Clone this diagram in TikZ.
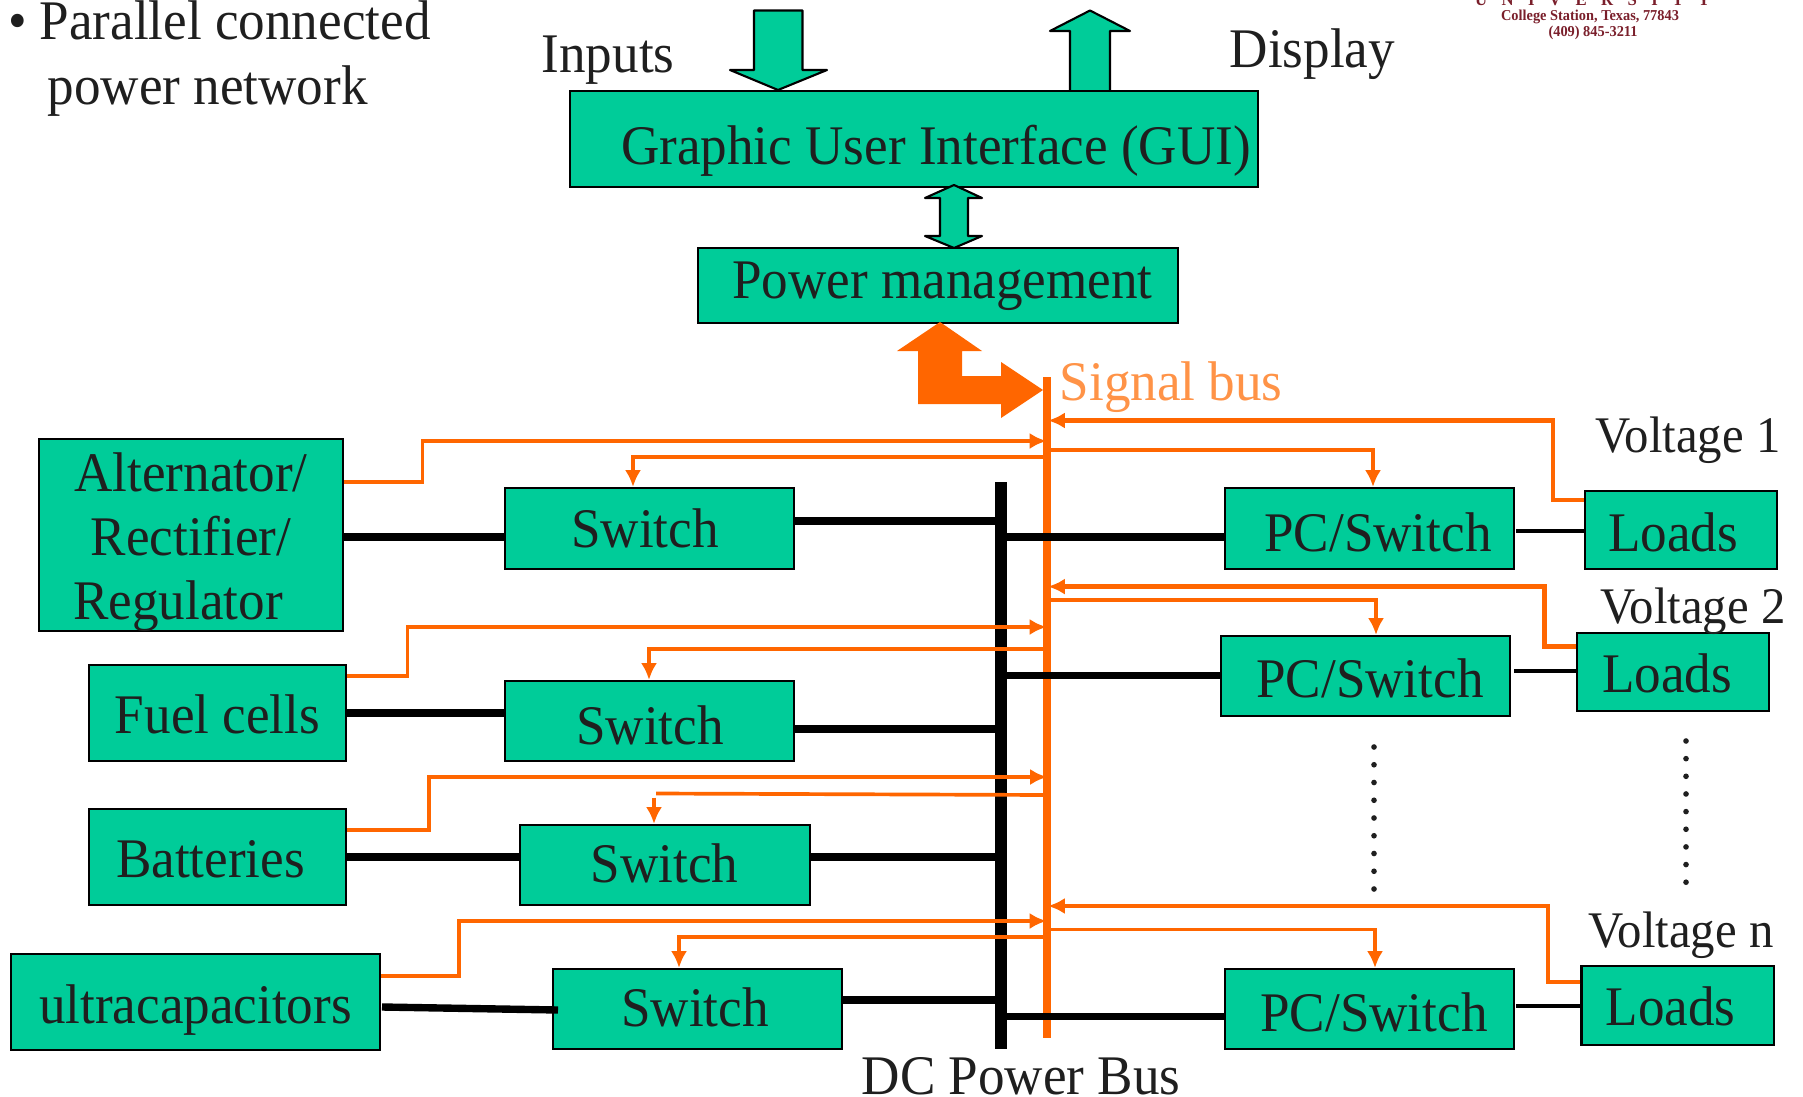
\documentclass[tikz,border=0pt]{standalone}
\usepackage{fontspec}
\setmainfont[FakeStretch=.95]{Liberation Serif}
\usetikzlibrary{arrows.meta}

\definecolor{boxgreen}{HTML}{00CC99}
\definecolor{busorange}{HTML}{FF6600}
\definecolor{signalorange}{HTML}{FF9347}
\definecolor{logored}{HTML}{7A1F2B}

\newlength{\pxu}
\setlength{\pxu}{.01cm}
% moves the text of a box, in pixels
\newcommand{\off}[3]{\raisebox{-#2\pxu}{\makebox[0pt]{\hspace*{#1\pxu}\hspace*{#1\pxu}#3}}}

\tikzset{
  box/.style={draw=black,line width=.6pt,fill=boxgreen,inner sep=0pt,text=black!88,
    font=\fontsize{15.9pt}{18.2pt}\selectfont,text height=11.13pt,text depth=3.18pt},
  swbox/.style={box,minimum width=2.89cm,minimum height=.8cm},
  loadbox/.style={box,minimum width=1.92cm,minimum height=.785cm},
  srcbox/.style={box,minimum width=2.57cm,minimum height=.965cm},
  txt/.style={anchor=base west,inner sep=0pt,text=black!88,font=\fontsize{15.9pt}{18.2pt}\selectfont},
  volt/.style={txt,font=\fontsize{14.6pt}{18.2pt}\selectfont},
  logo/.style={anchor=base,inner sep=0pt,text=logored,font=\fontsize{4.3pt}{5pt}\selectfont\bfseries},
  fatpower/.style={line width=2.1pt},
  thinpower/.style={line width=1.15pt},
  sig/.style={draw=busorange,line width=1.05pt},
  loadsig/.style={sig,line width=1.25pt,-{Latex[length=4.8pt,width=4.6pt]}},
  sigarrow/.style={sig,-{Latex[length=4.8pt,width=4.6pt]}},
  ioarrow/.style={draw=black,line width=.6pt,fill=boxgreen,line join=round},
}

\begin{document}
\begin{tikzpicture}[x=.01cm,y=-.01cm]
\useasboundingbox (0,0) rectangle (1803,1097);

% text at the top
\node[txt] (title1) at (8,40) {\makebox[31\pxu][l]{•}Parallel connected};
\node[txt] (title2) at (47,105) {power network};
\node[txt] (inputs) at (541,73) {Inputs};
\node[txt] (display) at (1229,67.6) {Display};
\node[txt,text=signalorange] (signal) at (1059,400) {Signal bus};
\node[logo,font=\fontsize{5pt}{5pt}\selectfont\bfseries] (uni) at (1592.5,6) {\makebox[235\pxu][s]{U N I V E R S I T Y}};
\node[logo] (city) at (1590,20.7) {College Station, Texas, 77843};
\node[logo] (phone) at (1593,36.7) {(409) 845-3211};

% buses
\fill[black] (995.2,482) rectangle (1006.8,1049);

% boxes
\node[box,minimum width=6.88cm,minimum height=.965cm] (gui) at (914,139) {\off{22}{11.5}{Graphic User Interface (GUI)}};
\node[box,minimum width=4.8cm,minimum height=.75cm] (pm) at (938,285.5) {\off{4.5}{-.5}{Power management}};

\node[box,minimum width=3.045cm,minimum height=1.925cm] (alt) at (191,535) {\off{0}{9}{\setlength{\tabcolsep}{0pt}\begin{tabular}{c}Alternator/\\Rectifier/\\Regulator\hspace*{26\pxu}\end{tabular}}};
\node[srcbox] (fuel) at (217.5,713) {\off{0}{7}{Fuel cells}};
\node[srcbox] (batt) at (217.5,857) {\off{-7}{6.5}{Batteries}};
\node[box,minimum width=3.69cm,minimum height=.96cm] (ultra) at (195.5,1002) {\off{0}{7.5}{ultracapacitors}};

\node[swbox,minimum height=.81cm] (sw1) at (649.5,528.5) {\off{-4.5}{5.5}{Switch}};
\node[swbox] (sw2) at (649.5,721) {\off{.5}{10}{Switch}};
\node[swbox] (sw3) at (665,865) {\off{-.5}{3.5}{Switch}};
\node[swbox] (sw4) at (697.5,1009) {\off{-2.5}{3.5}{Switch}};

\node[swbox,minimum height=.81cm] (pc1) at (1369.5,528.5) {\off{8.5}{9}{PC/Switch}};
\node[swbox] (pc2) at (1365.5,676) {\off{4.5}{7.5}{PC/Switch}};
\node[swbox] (pc3) at (1369.5,1009) {\off{4.5}{8.5}{PC/Switch}};

\node[loadbox] (l1) at (1681,530) {\off{-8}{8}{Loads}};
\node[loadbox] (l2) at (1673,672) {\off{-6}{7}{Loads}};
\node[loadbox] (l3) at (1677.5,1005.5) {\off{-7}{6.5}{Loads}};

\node[volt] (v1) at (1595,452.7) {Voltage 1};
\node[volt] (v2) at (1600,623.5) {Voltage 2};
\node[volt] (vn) at (1588,947) {Voltage n};
\node[txt] (dcbus) at (861,1094) {DC Power Bus};

% hollow arrows
\draw[ioarrow] (754,10.5) -- (802.5,10.5) -- (802.5,70) -- (827,70) -- (778,90) -- (730,70) -- (754,70) -- cycle;
\draw[ioarrow] (1070,90) -- (1070,31) -- (1050,31) -- (1090,10.5) -- (1130,31) -- (1110,31) -- (1110,90);
\draw[ioarrow] (954,185) -- (982,198) -- (968,198) -- (968,236) -- (982,236) -- (954,248) -- (925,236) -- (940,236) -- (940,198) -- (925,198) -- cycle;
\fill[busorange] (940,322) -- (982,351) -- (962,351) -- (962,376) -- (1001,376) -- (1001,362) -- (1043,390) -- (1001,418) -- (1001,404) -- (918,404) -- (918,351) -- (897,351) -- cycle;

% power lines
\coordinate (bus1) at (1001,521);
\coordinate (bus2) at (1001,729);
\coordinate (bus3) at (1001,857);
\coordinate (bus4) at (1001,1000);
\draw[fatpower] (alt.east |- 0,537) -- (sw1.west |- 0,537);
\draw[fatpower] (sw1.east |- bus1) -- (bus1);
\draw[fatpower] (fuel.east |- 0,713) -- (sw2.west |- 0,713);
\draw[fatpower] (sw2.east |- bus2) -- (bus2);
\draw[fatpower] (batt.east |- bus3) -- (sw3.west |- bus3);
\draw[fatpower] (sw3.east |- bus3) -- (bus3);
\draw[fatpower] (382,1007) -- (558,1010);
\draw[fatpower] (sw4.east |- bus4) -- (bus4);

\draw[thinpower] (1516,531) -- (l1.west |- 0,531);
\draw[thinpower] (1514,670.7) -- (l2.west |- 0,670.7);
\draw[thinpower] (1516,1006) -- (l3.west |- 0,1006);

% signal bus
\draw[busorange,line width=2.1pt] (1047,377) coordinate (sigtop) -- (1047,1038) coordinate (sigbot);
\draw[fatpower] (1001,537) -- (pc1.west |- 0,537);
\draw[fatpower] (1001,675.5) -- (pc2.west |- 0,675.5);
\draw[fatpower] (1001,1016.7) -- (pc3.west |- 0,1016.7);

% signal lines, one group per source
\foreach \src/\ya/\xa/\yb/\sw/\yc/\xc in {alt/482/422.5/441/sw1/457/633,fuel/676/407.5/627/sw2/649/649,ultra/976/459/921/sw4/937/679}{
  \draw[sigarrow] (\src.east |- 0,\ya) -- (\xa,\ya) -- (\xa,\yb) -- (1046.5,\yb);
  \draw[sigarrow] (1047,\yc) -- (\xc,\yc) -- (\sw.north -| \xc,0);
}
\draw[sigarrow] (batt.east |- 0,830) -- (429,830) -- (429,777) -- (1047,777);
\draw[sig] (1047,795) -- (656,793.5);
\draw[sigarrow] (654,797.6) -- (sw3.north -| 654,0);

\foreach \pc/\ya/\xa in {pc1/450/1373,pc2/600/1376,pc3/929.5/1375}{
  \draw[sigarrow] (1047,\ya) -- (\xa,\ya) -- (\pc.north -| \xa,0);
}
\foreach \lo/\ya/\xa/\yb in {l1/500/1553/420.5,l2/646.6/1544.6/586.6,l3/982/1548/906}{
  \draw[loadsig] (\lo.west |- 0,\ya) -- (\xa,\ya) -- (\xa,\yb) -- (1048,\yb);
}

% dots
\foreach \i in {0,...,8}{
  \fill[black!88] (1374,{747+17.75*\i}) circle (.8pt);
  \fill[black!88] (1686,{741+17.65*\i}) circle (.8pt);
}
\end{tikzpicture}
\end{document}
